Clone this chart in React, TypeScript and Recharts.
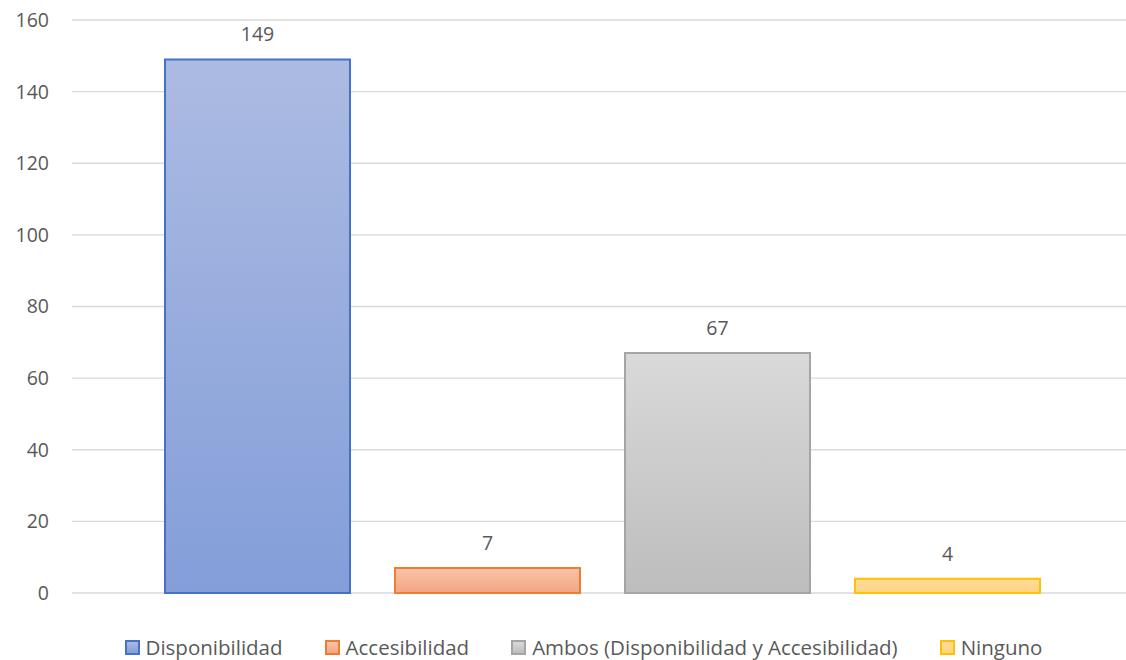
import { BarChart, Bar, XAxis, YAxis, CartesianGrid, Legend, LabelList } from "recharts";

const seriesNames = [
  "Disponibilidad",
  "Accesibilidad",
  "Ambos (Disponibilidad y Accesibilidad)",
  "Ninguno",
];
const seriesValues = [149, 7, 67, 4];
const yTicks = [0, 20, 40, 60, 80, 100, 120, 140, 160];

const looks = [
  { stroke: "#4472c4", top: "#acbbe2", bottom: "#839ed9" },
  { stroke: "#ed7d31", top: "#f8c3a9", bottom: "#f4a582" },
  { stroke: "#a5a5a5", top: "#d9d9d9", bottom: "#bdbdbd" },
  { stroke: "#ffc000", top: "#ffdc9c", bottom: "#ffd47f" },
];

const FONT = "'Open Sans', sans-serif";
const TEXT = "#595959";

// one row, each series is its own bar (like Excel's clustered column)
const row: Record<string, number | string> = { name: "" };
seriesNames.forEach((_, i) => {
  row["s" + i] = seriesValues[i];
});
const data = [row];

const LegendBox = () => (
  <div
    style={{
      display: "flex",
      justifyContent: "center",
      gap: 42,
      paddingTop: 42,
      paddingLeft: 34,
      fontFamily: FONT,
      fontSize: 20.5,
      lineHeight: "24px",
      color: TEXT,
      whiteSpace: "nowrap",
    }}
  >
    {seriesNames.map((n, i) => (
      <div key={n} style={{ display: "flex", alignItems: "center" }}>
        <span
          style={{
            display: "inline-block",
            width: 11,
            height: 11,
            marginRight: 6,
            border: `2px solid ${looks[i].stroke}`,
            background: `linear-gradient(${looks[i].top}, ${looks[i].bottom})`,
          }}
        />
        {n}
      </div>
    ))}
  </div>
);

export default function App() {
  return (
    <div style={{ position: "absolute", left: 0, top: 0, background: "#fff" }}>
      <BarChart
        width={1126}
        height={660}
        data={data}
        margin={{ top: 20, right: -7, bottom: 0, left: 0 }}
        barGap={45}
        barSize={185}
        style={{ overflow: "hidden" }}
      >
        <defs>
          {looks.map((l, i) => (
            <linearGradient key={i} id={"g" + i} x1="0" y1="0" x2="0" y2="1">
              <stop offset="0%" stopColor={l.top} />
              <stop offset="100%" stopColor={l.bottom} />
            </linearGradient>
          ))}
        </defs>
        <CartesianGrid vertical={false} stroke="#d9d9d9" strokeWidth={1.3} />
        <XAxis dataKey="name" hide />
        <YAxis
          width={72}
          domain={[0, 160]}
          ticks={yTicks}
          axisLine={false}
          tickLine={false}
          tickSize={0}
          tickMargin={23}
          tick={{ fill: TEXT, fontSize: 19.5, fontFamily: FONT }}
        />
        <Legend verticalAlign="bottom" height={67} content={<LegendBox />} />
        {seriesNames.map((n, i) => (
          <Bar
            key={n}
            dataKey={"s" + i}
            name={n}
            fill={`url(#g${i})`}
            stroke={looks[i].stroke}
            strokeWidth={2}
            isAnimationActive={false}
          >
            <LabelList
              dataKey={"s" + i}
              position="top"
              offset={18}
              fill={TEXT}
              fontSize={19.5}
              fontFamily={FONT}
            />
          </Bar>
        ))}
      </BarChart>
    </div>
  );
}
